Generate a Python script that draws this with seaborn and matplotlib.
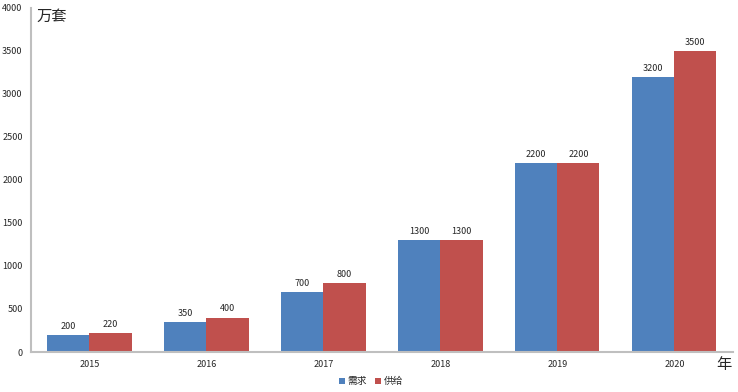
import seaborn as sns
import matplotlib.pyplot as plt
import pandas as pd

years = ["2015", "2016", "2017", "2018", "2019", "2020"]
demand = [200, 350, 700, 1300, 2200, 3200]
supply = [220, 400, 800, 1300, 2200, 3500]
series_names = ["需求", "供给"]
colors = ["#4F81BD", "#C0504D"]

sns.set_style("white")
plt.rcParams['font.family'] = ['Noto Sans CJK SC', 'DejaVu Sans']

df = pd.DataFrame({
    "year": years * 2,
    "value": demand + supply,
    "series": [series_names[0]] * len(years) + [series_names[1]] * len(years),
})

fig = plt.figure(figsize=(7.38, 3.92), dpi=100)
ax = fig.add_axes([0.042, 0.102, 0.951, 0.878])
sns.barplot(data=df, x="year", y="value", hue="series", palette=colors,
            width=0.72, gap=0, ax=ax, edgecolor="none", saturation=1)

ax.set_ylim(0, 4000)
ax.set_yticks(range(0, 4001, 500))
ax.set_xlabel("")
ax.set_ylabel("")
ax.tick_params(axis="both", labelsize=6.5, length=0, pad=6)

# value labels
for cont in ax.containers:
    ax.bar_label(cont, fontsize=6.5, padding=3)

for s in ["top", "right"]:
    ax.spines[s].set_visible(False)
for s in ["left", "bottom"]:
    ax.spines[s].set_color("#BFBFBF")
    ax.spines[s].set_linewidth(1.5)

ax.text(0.008, 1.0, "万套", transform=ax.transAxes, fontsize=11, va="top", ha="left")
fig.text(0.971, 0.07, "年", fontsize=11, ha="left", va="center")

handles, labels = ax.get_legend_handles_labels()
ax.get_legend().remove()
fig.legend(handles, labels, loc="center", bbox_to_anchor=(0.503, 0.028), ncol=2,
           frameon=False, fontsize=7, handlelength=0.6, handleheight=0.6,
           handletextpad=0.3, columnspacing=0.8, borderpad=0)

fig.savefig("out.png", dpi=100)
